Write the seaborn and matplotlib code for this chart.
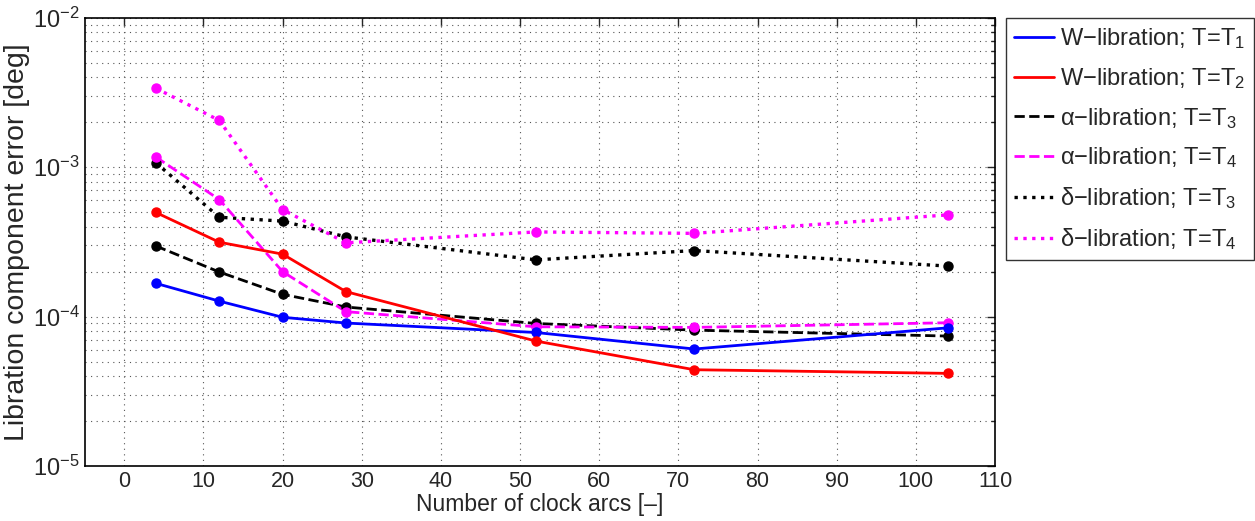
import numpy as np
import pandas as pd
import matplotlib
matplotlib.use("Agg")
import matplotlib.pyplot as plt
import seaborn as sns
from matplotlib.ticker import LogLocator, NullFormatter, FixedLocator

# number of clock arcs
arcs = [4, 12, 20, 28, 52, 72, 104]

# libration component errors [deg]
w_t1 = [1.67e-4, 1.27e-4, 9.9e-5, 9.06e-5, 7.83e-5, 6.07e-5, 8.41e-5]
w_t2 = [4.98e-4, 3.15e-4, 2.62e-4, 1.47e-4, 6.86e-5, 4.41e-5, 4.17e-5]
alpha_t3 = [2.97e-4, 1.99e-4, 1.41e-4, 1.16e-4, 9.0e-5, 8.12e-5, 7.41e-5]
alpha_t4 = [1.17e-3, 6.08e-4, 2.0e-4, 1.08e-4, 8.55e-5, 8.47e-5, 9.1e-5]
delta_t3 = [1.07e-3, 4.63e-4, 4.36e-4, 3.42e-4, 2.40e-4, 2.77e-4, 2.18e-4]
delta_t4 = [3.38e-3, 2.06e-3, 5.21e-4, 3.12e-4, 3.69e-4, 3.61e-4, 4.8e-4]

labels = ["W\u2212libration; T=T$_1$", "W\u2212libration; T=T$_2$",
          "\u03b1\u2212libration; T=T$_3$", "\u03b1\u2212libration; T=T$_4$",
          "\u03b4\u2212libration; T=T$_3$", "\u03b4\u2212libration; T=T$_4$"]

series = [w_t1, w_t2, alpha_t3, alpha_t4, delta_t3, delta_t4]
colors = ["#0000ff", "#ff0000", "#000000", "#ff00ff", "#000000", "#ff00ff"]
styles = ["-", "-", "--", "--", ":", ":"]

sns.set_style("white")
plt.rcParams["font.family"] = ["Liberation Sans", "DejaVu Sans"]
plt.rcParams["mathtext.fontset"] = "custom"
plt.rcParams["mathtext.rm"] = "Liberation Sans"
plt.rcParams["mathtext.it"] = "Liberation Sans"
plt.rcParams["axes.unicode_minus"] = True

fig = plt.figure(figsize=(12.55, 5.21), dpi=100)
ax = fig.add_axes([0.0675, 0.1056, 0.7254, 0.86])

# draw delta first so the solid lines sit on top
order = [4, 5, 2, 3, 0, 1]
for i in order:
    df = pd.DataFrame({"arcs": arcs, "err": series[i]})
    sns.lineplot(data=df, x="arcs", y="err", ax=ax, color=colors[i],
                 linestyle=styles[i], linewidth=2.0 if styles[i] != ":" else 2.4,
                 label=labels[i], zorder=2)
    ax.plot(df["arcs"], df["err"], "o", color=colors[i], markersize=6.5,
            zorder=3)

ax.set_yscale("log")
ax.set_xlim(-5, 110)
ax.set_ylim(1e-5, 1e-2)
ax.xaxis.set_major_locator(FixedLocator(np.arange(0, 111, 10)))
ax.yaxis.set_major_locator(LogLocator(base=10, numticks=10))
ax.yaxis.set_minor_locator(LogLocator(base=10, subs=np.arange(2, 10), numticks=20))
ax.yaxis.set_minor_formatter(NullFormatter())

ax.grid(True, which="major", linestyle=(0, (1, 4)), color="#555555", linewidth=0.8)
ax.grid(True, which="minor", axis="y", linestyle=(0, (1, 4)), color="#555555", linewidth=0.8)

ax.tick_params(which="both", direction="in", top=True, right=True,
               labelsize=15.5, width=1.0)
ax.tick_params(which="major", length=6)
ax.tick_params(which="minor", length=3)
ax.tick_params(axis="y", labelsize=17)
for sp in ax.spines.values():
    sp.set_visible(True)
    sp.set_color("black")
    sp.set_linewidth(1.2)

ax.set_xlabel("Number of clock arcs [\u2013]", fontsize=16.5, labelpad=1)
ax.set_ylabel("Libration component error [deg]", fontsize=20.5, labelpad=2)

# legend in the original order, lines only
handles, labs = ax.get_legend_handles_labels()
hmap = dict(zip(labs, handles))
leg = ax.legend([hmap[l] for l in labels], labels, loc="upper left",
                bbox_to_anchor=(1.012, 1.0), fontsize=17, frameon=True,
                fancybox=False, edgecolor="black", handlelength=1.7,
                handletextpad=0.25, borderpad=0.35, labelspacing=0.63,
                borderaxespad=0)
leg.get_frame().set_linewidth(1.0)

fig.savefig("out.png", dpi=100)
